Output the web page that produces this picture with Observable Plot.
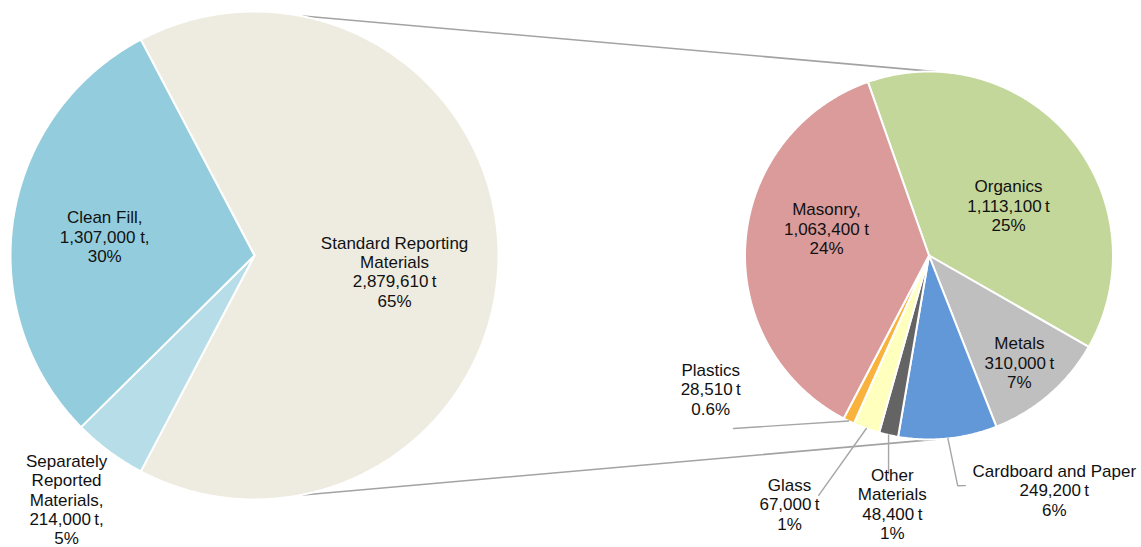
<!DOCTYPE html>
<html>
<head>
<meta charset="utf-8">
<script src="https://cdn.jsdelivr.net/npm/d3@7"></script>
<script src="https://cdn.jsdelivr.net/npm/@observablehq/plot@0.6"></script>
<style>
  html, body { margin: 0; padding: 0; background: #ffffff; }
  #chart svg { display: block; }
</style>
</head>
<body>
<div id="chart"></div>
<script>
// ---------- DATA ----------
// Main pie (clockwise from the split slice)
const mainCategories = ["Standard Reporting Materials", "Separately Reported Materials", "Clean Fill"];
const mainValues = [2879610, 214000, 1307000];
const mainLabels = [
  "Standard Reporting\nMaterials\n2,879,610\u2009t\n65%",
  "Separately\nReported\nMaterials,\n214,000\u2009t,\n5%",
  "Clean Fill,\n1,307,000 t,\n30%"
];

// Secondary pie: breakdown of Standard Reporting Materials (clockwise)
const subCategories = ["Organics", "Metals", "Cardboard and Paper", "Other Materials", "Glass", "Plastics", "Masonry"];
const subValues = [1113100, 310000, 249200, 48400, 67000, 28510, 1063400];
const subLabels = [
  "Organics\n1,113,100\u2009t\n25%",
  "Metals\n310,000\u2009t\n7%",
  "Cardboard and Paper\n249,200\u2009t\n6%",
  "Other\nMaterials\n48,400\u2009t\n1%",
  "Glass\n67,000\u2009t\n1%",
  "Plastics\n28,510\u2009t\n0.6%",
  "Masonry,\n1,063,400 t\n24%"
];

// ---------- STYLE / LAYOUT ----------
const mainColors = ["#EEECE1", "#B7DEE8", "#93CDDD"];
const subColors = ["#C4D79B", "#BFBFBF", "#6398D8", "#646464", "#FFFFBE", "#F9B33C", "#DA9B9A"];

const W = 1141, H = 547;
const mainPie = {cx: 254, cy: 255, r: 244};
const subPie = {cx: 928.5, cy: 255, r: 184, start: -19.4};

// label anchors: [angle (deg clockwise from top), radius in px] relative to each pie centre
const mainLabelPos = [[96.5, 141], [217.6, 308], [277.2, 151]];
const subLabelPos = [[57.8, 94], [139.8, 140], [151.9, 266], [188.4, 251], [209.3, 285], [238.5, 256], [284.8, 106]];
// leader line waypoints (after the slice edge point) for outside labels
const subLeaders = {
  2: [[172.9, 232], [171.0, 233]],
  3: [[190.5, 222]],
  4: [[204.7, 264]],
  5: [[228.5, 261]]
};
const connectorAngles = {main: 10.8, sub: 2};

// ---------- GEOMETRY ----------
const rad = d => d * Math.PI / 180;
const polar = (c, angDeg, r) => ({x: c.cx + r * Math.sin(rad(angDeg)), y: c.cy - r * Math.cos(rad(angDeg))});

function slices(values, startDeg) {
  const total = d3.sum(values);
  let a = startDeg;
  return values.map(v => {
    const span = v / total * 360;
    const s = {a0: a, a1: a + span, mid: a + span / 2};
    a += span;
    return s;
  });
}

const mainTotal = d3.sum(mainValues);
const stdSpan = mainValues[0] / mainTotal * 360;
const mainSlices = slices(mainValues, 90 - stdSpan / 2);
const subSlices = slices(subValues, subPie.start);

const slicePts = [];
function addSlice(c, s, id, color) {
  slicePts.push({id, color, ...polar(c, 0, 0)});
  const n = Math.max(2, Math.ceil((s.a1 - s.a0) / 0.5));
  for (let i = 0; i <= n; i++) {
    const ang = s.a0 + (s.a1 - s.a0) * i / n;
    slicePts.push({id, color, ...polar(c, ang, c.r)});
  }
  slicePts.push({id, color, ...polar(c, 0, 0)});
}
mainSlices.forEach((s, i) => addSlice(mainPie, s, "m" + i, mainColors[i]));
subSlices.forEach((s, i) => addSlice(subPie, s, "s" + i, subColors[i]));

const connectors = [
  {id: "top", ...polar(mainPie, connectorAngles.main, mainPie.r)},
  {id: "top", ...polar(subPie, connectorAngles.sub, subPie.r)},
  {id: "bot", ...polar(mainPie, 180 - connectorAngles.main, mainPie.r)},
  {id: "bot", ...polar(subPie, 180 - connectorAngles.sub, subPie.r)}
];

const leaders = [];
Object.entries(subLeaders).forEach(([k, pts]) => {
  const s = subSlices[+k];
  leaders.push({id: k, ...polar(subPie, s.mid, subPie.r)});
  pts.forEach(([a, r]) => leaders.push({id: k, ...polar(subPie, a, r)}));
});

const labels = [
  ...mainLabels.map((t, i) => ({text: t, ...polar(mainPie, mainLabelPos[i][0], mainLabelPos[i][1])})),
  ...subLabels.map((t, i) => ({text: t, ...polar(subPie, subLabelPos[i][0], subLabelPos[i][1])}))
];

// ---------- PLOT ----------
const chart = Plot.plot({
  width: W,
  height: H,
  margin: 0,
  x: {domain: [0, W], range: [0, W], axis: null},
  y: {domain: [0, H], range: [0, H], axis: null},
  color: {type: "identity"},
  style: {background: "#ffffff", fontFamily: "'Liberation Sans', Arial, sans-serif"},
  marks: [
    Plot.line(connectors, {x: "x", y: "y", z: "id", stroke: "#A3A3A3", strokeWidth: 1.6}),
    Plot.line(slicePts, {x: "x", y: "y", z: "id", fill: "color", stroke: "#ffffff", strokeWidth: 2, strokeLinejoin: "miter", strokeMiterlimit: 4}),
    Plot.line(leaders, {x: "x", y: "y", z: "id", stroke: "#A6A6A6", strokeWidth: 1.4, strokeLinejoin: "miter"}),
    Plot.text(labels, {x: "x", y: "y", text: "text", fontSize: 17, lineHeight: 1.14, fill: "#111111", fontFamily: "'Liberation Sans', Arial, sans-serif"})
  ]
});
document.getElementById("chart").appendChild(chart);
</script>
</body>
</html>
